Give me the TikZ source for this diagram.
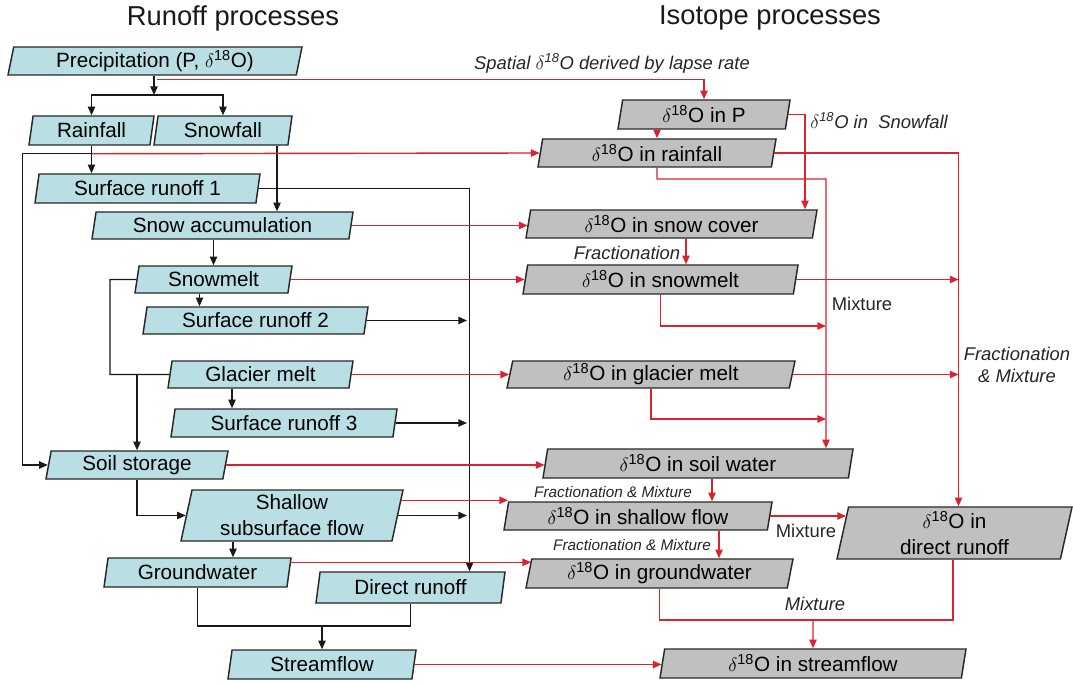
\documentclass[tikz,border=0pt]{standalone}
\usepackage{fontspec}
\setmainfont{Liberation Sans}
\usetikzlibrary{shapes.geometric,arrows.meta,calc}
\definecolor{bfill}{RGB}{185,222,228}
\definecolor{gfill}{RGB}{192,192,192}
\definecolor{rline}{RGB}{218,35,45}
\definecolor{edgec}{RGB}{40,40,40}
\newcommand{\dOx}{$\delta$\textsuperscript{18}O}
\begin{document}
\begin{tikzpicture}[x=0.75pt,y=-0.75pt,
 bx/.style={trapezium, trapezium left angle=75, trapezium right angle=105,
   trapezium stretches body=true, draw=edgec, line width=1.1pt, inner sep=0pt,
   minimum height=28*0.75pt, font=\fontsize{15.5}{19.5}\selectfont, align=center},
 rb/.style={bx, fill=bfill},
 ib/.style={bx, fill=gfill},
 wd/.style={minimum width=#1*0.75pt},
 ht/.style={minimum height=#1*0.75pt},
 conn/.style={draw=black!90, line width=1.05pt},
 arr/.style={conn, -{Triangle[length=6.5pt,width=5.5pt]}},
 rc/.style={draw=rline, line width=1.05pt},
 rarr/.style={rc, -{Triangle[length=6.5pt,width=5.5pt]}},
 lab/.style={font=\fontsize{13.8}{16.5}\selectfont\itshape, inner sep=0pt, text=black!85},
 ulab/.style={font=\fontsize{13.8}{16.5}\selectfont, inner sep=0pt, text=black!85},
 slab/.style={font=\fontsize{11.5}{14}\selectfont\itshape, inner sep=0pt, text=black!85},
 ttl/.style={font=\fontsize{20.5}{24}\selectfont, inner sep=0pt, text=black!90}
]
\fill[white] (0,0) rectangle (1073,684);
\useasboundingbox (0,0) rectangle (1073,684);

% titles
\node[ttl] (t1) at (233,18) {Runoff processes};
\node[ttl] (t2) at (770,18) {Isotope processes};

% runoff boxes
\node[rb, wd=294] (prec) at (155,61) {Precipitation (P, \dOx)};
\node[rb, wd=125, ht=29] (rain) at (91.5,130.5) {Rainfall};
\node[rb, wd=138, ht=29] (snow) at (223,130.5) {Snowfall};
\node[rb, wd=225, ht=29] (sr1) at (147.5,188.5) {Surface runoff 1};
\node[rb, wd=261, ht=27] (sacc) at (222.5,225.5) {Snow accumulation};
\node[rb, wd=157, ht=27] (smelt) at (213.5,279.5) {Snowmelt};
\node[rb, wd=225, ht=27] (sr2) at (255.5,320.5) {Surface runoff 2};
\node[rb, wd=185, ht=27] (glac) at (260.5,374.5) {Glacier melt};
\node[rb, wd=226] (sr3) at (284,423) {Surface runoff 3};
\node[rb, wd=182] (soil) at (137,465) {Soil storage};
\node[rb, wd=222, ht=51] (shal) at (292,515.5) {Shallow\\subsurface flow};
\node[rb, wd=187, ht=29] (gw) at (197.5,572.5) {Groundwater};
\node[rb, wd=189, ht=31] (dr) at (410.5,587.5) {Direct runoff};
\node[rb, wd=188, ht=29] (sf) at (322,664.5) {Streamflow};

% isotope boxes
\node[ib, wd=172, ht=29] (iP) at (704,114.5) {\dOx{} in P};
\node[ib, wd=238] (irain) at (657,153) {\dOx{} in rainfall};
\node[ib, wd=291] (isnow) at (671.5,224) {\dOx{} in snow cover};
\node[ib, wd=275, ht=29] (imelt) at (660.5,279.5) {\dOx{} in snowmelt};
\node[ib, wd=288, ht=27] (iglac) at (651,374.5) {\dOx{} in glacier melt};
\node[ib, wd=310, ht=29] (isoil) at (698,463.5) {\dOx{} in soil water};
\node[ib, wd=268] (ishal) at (638,516) {\dOx{} in shallow flow};
\node[ib, wd=267, ht=29] (igw) at (659.5,573.5) {\dOx{} in groundwater};
\node[ib, wd=235, ht=52] (idr) at (954.5,533) {\dOx{} in\\direct runoff};
\node[ib, wd=306, ht=29] (isf) at (813,663.5) {\dOx{} in streamflow};

% labels
\node[lab] (lL) at (612,63) {Spatial \dOx{} derived by lapse rate};
\node[lab, anchor=west] (lS) at (810,121) {\dOx{} in\ \ Snowfall};
\node[lab] (lF) at (627,253) {Fractionation};
\node[ulab] (lM1) at (862,304) {Mixture};
\node[lab, align=center] (lFM) at (1017,365) {Fractionation\\\& Mixture};
\node[slab] (lFM2) at (613,492) {Fractionation \& Mixture};
\node[slab] (lFM3) at (632,545) {Fractionation \& Mixture};
\node[ulab] (lM2) at (806,531) {Mixture};
\node[lab] (lM3) at (815,604) {Mixture};

% helper coordinates
\coordinate (j1) at (154,95);
\coordinate (lp) at (110,374.5);
\coordinate (vx2) at (467,0);
\coordinate (j3) at (322,626);
\coordinate (vr) at (958.5,0);
\coordinate (mx) at (826,179);
\coordinate (m2) at (826,326);
\coordinate (m3) at (826,419);
\coordinate (j4) at (813,620);

% black connectors
\draw[arr] (j1 |- prec.south) -- (j1);
\draw[arr] (j1) -| (rain.north);
\draw[arr] (j1) -| (snow.north);
\path (rain.south) ++(0,8) coordinate (j2);
\draw[arr] (rain.south) -- (rain.south |- sr1.north);
\draw[arr] (j2) -- ++(-69,0) |- (soil.west);
\draw[arr] ($(snow.south)+(54,0)$) coordinate (s1) -- (s1 |- sacc.north);
\draw[arr] (sr1.east) -| ($(dr.north)+(59,0)$);
\draw[arr] (smelt.north |- sacc.south) -- (smelt.north);
\draw[arr] ($(smelt.south)+(-14,0)$) coordinate (s2) -- (s2 |- sr2.north);
\draw[conn] (smelt.west) -| (lp) -- (glac.west);
\draw[arr] (soil.north |- glac.west) -- (soil.north);
\draw[arr] (sr2.east) -- (sr2.east -| vx2);
\draw[arr] ($(glac.south)+(-28.5,0)$) coordinate (s3) -- (s3 |- sr3.north);
\draw[arr] (sr3.east) -- (sr3.east -| vx2);
\draw[arr] (soil.south) |- (shal.west);
\draw[arr] (shal.east) -- (shal.east -| vx2);
\draw[arr] ($(shal.south)+(-59,0)$) coordinate (s4) -- (s4 |- gw.north);
\draw[conn] (gw.south) |- (j3);
\draw[conn] (dr.south) |- (j3);
\draw[arr] (j3) -- (sf.north);

% red connectors
\draw[rarr] ($(prec.south)+(2,4)$) -| (iP.north);
\draw[rarr] (iP.east) -| ($(isnow.north)+(133.5,0)$);
\draw[rarr] (irain.north |- iP.south) -- (irain.north);
\draw[rarr] (j2) -- (irain.west);
\draw[rarr] (irain.east) -| (idr.north -| vr);
\draw[rarr] (irain.south) |- (mx) -- ($(isoil.north)+(128,0)$);
\draw[rarr] (sacc.east) -- (sacc.east -| isnow.west);
\draw[rarr] ($(isnow.south)+(14.5,0)$) coordinate (s5) -- (s5 |- imelt.north);
\draw[rarr] (smelt.east) -- (smelt.east -| imelt.west);
\draw[rarr] (imelt.east) -- (imelt.east -| vr);
\draw[rarr] (imelt.south) |- (m2);
\draw[rarr] (glac.east) -- (glac.east -| iglac.west);
\draw[rarr] (iglac.east) -- (iglac.east -| vr);
\draw[rarr] (iglac.south) |- (m3);
\draw[rarr] (soil.east) -- (soil.east -| isoil.west);
\draw[rarr] ($(isoil.south)+(14,0)$) coordinate (s6) -- (s6 |- ishal.north);
\draw[rarr] ($(shal.top right corner)+(-3,11)$) coordinate (h1) -- (h1 -| ishal.top left corner);
\draw[rarr] (ishal.east) -- ($(ishal.east -| idr.top left corner)+(-2,0)$);
\draw[rarr] ($(ishal.south)+(81,0)$) coordinate (s7) -- (s7 |- igw.north);
\draw[rarr] ($(gw.top right corner)+(-1.5,5)$) coordinate (g1) -- (g1 -| igw.top left corner);
\draw[rc] (igw.south) |- (j4);
\draw[rc] ($(idr.south)+(-1.5,0)$) |- (j4);
\draw[rarr] (j4) -- (isf.north);
\draw[rarr] (sf.east) -- (sf.east -| isf.west);
\end{tikzpicture}
\end{document}
